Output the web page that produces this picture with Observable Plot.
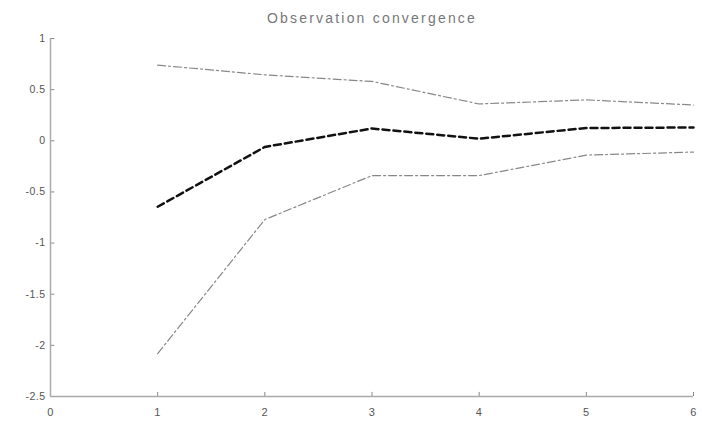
<!DOCTYPE html>
<html>
<head>
<meta charset="utf-8">
<script src="https://cdn.jsdelivr.net/npm/d3@7"></script>
<script src="https://cdn.jsdelivr.net/npm/@observablehq/plot@0.6"></script>
<style>
  body { margin: 0; background: #fff; }
  #title { height: 28px; line-height: 36px; text-align: center; font-family: "Liberation Sans", Arial, sans-serif; font-size: 14px; letter-spacing: 2.2px; color: #777; padding-left: 42px; box-sizing: border-box; }
</style>
</head>
<body>
<div id="title">Observation convergence</div>
<div id="chart"></div>
<script>
const steps = [1, 2, 3, 4, 5, 6];
const meanValues = [-0.645, -0.06, 0.12, 0.02, 0.125, 0.13];
const upperValues = [0.74, 0.645, 0.58, 0.36, 0.40, 0.35];
const lowerValues = [-2.08, -0.77, -0.34, -0.34, -0.14, -0.11];
const xTicks = [0, 1, 2, 3, 4, 5, 6];
const yTicks = [1, 0.5, 0, -0.5, -1, -1.5, -2, -2.5];

const mean = steps.map((s, i) => ({x: s, y: meanValues[i]}));
const upper = steps.map((s, i) => ({x: s, y: upperValues[i]}));
const lower = steps.map((s, i) => ({x: s, y: lowerValues[i]}));

const chart = Plot.plot({
  width: 702,
  height: 393,
  marginLeft: 50,
  marginRight: 9,
  marginTop: 10,
  marginBottom: 25,
  style: {fontFamily: "'Liberation Sans', Arial, sans-serif", fontSize: "10.5px", color: "#555", background: "#fff", letterSpacing: "0.5px"},
  x: {domain: [0, 6]},
  y: {domain: [-2.5, 1]},
  marks: [
    Plot.axisX(xTicks, {tickSize: 0, tickPadding: 12, label: null, fontSize: 11}),
    Plot.axisY(yTicks, {tickSize: 0, tickPadding: 5, label: null, tickFormat: d => String(d)}),
    Plot.ruleY(yTicks, {x1: 0, x2: 0.04, stroke: "#888", strokeWidth: 1}),
    Plot.ruleX(xTicks, {y1: -2.5, y2: -2.46, stroke: "#888", strokeWidth: 1}),
    Plot.ruleX([0], {stroke: "#aaa", strokeWidth: 1.5}),
    Plot.ruleY([-2.5], {stroke: "#aaa", strokeWidth: 1.5}),
    Plot.line(upper, {x: "x", y: "y", stroke: "#888", strokeWidth: 1.2, strokeDasharray: "8,3,2,3"}),
    Plot.line(lower, {x: "x", y: "y", stroke: "#888", strokeWidth: 1.2, strokeDasharray: "8,3,2,3"}),
    Plot.line(mean, {x: "x", y: "y", stroke: "#111", strokeWidth: 2.5, strokeDasharray: "7,4"})
  ]
});
document.getElementById("chart").appendChild(chart);
</script>
</body>
</html>
